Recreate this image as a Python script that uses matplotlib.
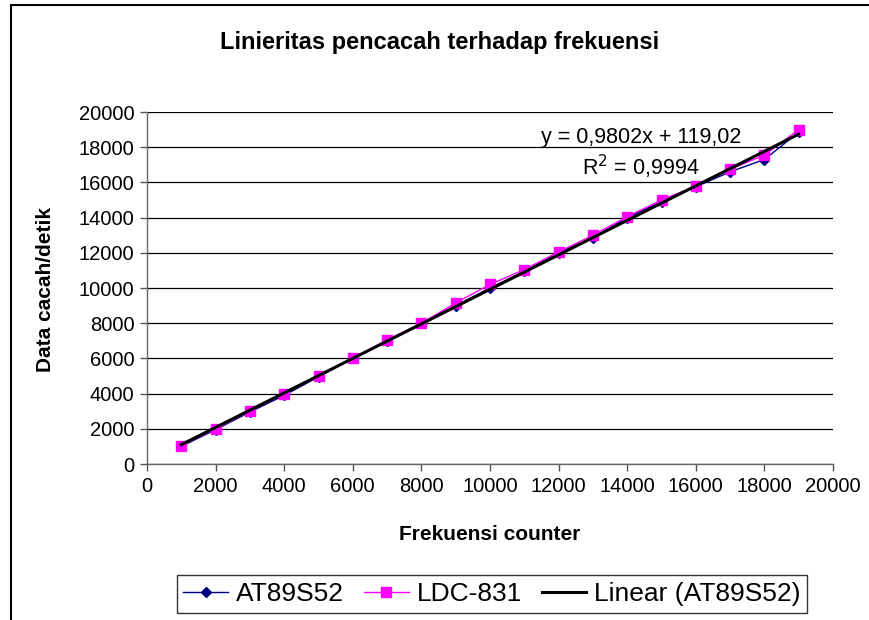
import matplotlib
matplotlib.use("Agg")
import matplotlib.pyplot as plt
from matplotlib.patches import Rectangle
import numpy as np

plt.rcParams['font.family'] = ['Liberation Sans', 'DejaVu Sans']

freq = [1000, 2000, 3000, 4000, 5000, 6000, 7000, 8000, 9000, 10000,
        11000, 12000, 13000, 14000, 15000, 16000, 17000, 18000, 19000]
at89s52 = [1000, 1950, 2950, 3900, 4950, 6000, 7000, 8000, 9000, 10000,
           10950, 12000, 12850, 14000, 14900, 15750, 16600, 17300, 18850]
ldc831 = [1050, 2000, 3000, 4000, 5000, 6000, 7050, 8000, 9150, 10200,
          11050, 12050, 13000, 14050, 15000, 15800, 16750, 17550, 19000]
trend_slope = 0.9802
trend_intercept = 119.02
eq_text = "y = 0,9802x + 119,02"
r2_text = "R$^2$ = 0,9994"

W, H = 869, 620
fig = plt.figure(figsize=(W / 100, H / 100), dpi=100)
fig.patch.set_facecolor('white')

# outer chart border (extends past the right and bottom edges)
fig.patches.append(Rectangle((11 / W, -0.05), 1.1, 1 - 5 / H + 0.05,
                             transform=fig.transFigure, fill=False,
                             edgecolor='black', linewidth=1.5))

ax = fig.add_axes([147 / W, (H - 464) / H, (833 - 147) / W, (464 - 112) / H])
ax.set_xlim(0, 20000)
ax.set_ylim(0, 20000)
ax.set_xticks(np.arange(0, 20001, 2000))
ax.set_yticks(np.arange(0, 20001, 2000))
ax.tick_params(axis='both', labelsize=14.5, direction='out', length=5,
               width=1, color='#555555', pad=4)
for side in ['top', 'right']:
    ax.spines[side].set_visible(False)
for side in ['left', 'bottom']:
    ax.spines[side].set_color('#666666')
    ax.spines[side].set_linewidth(1)
ax.yaxis.grid(True, color='black', linewidth=0.9)
ax.set_axisbelow(True)

ax.plot(freq, at89s52, color='#000080', linewidth=1, marker='D',
        markersize=5, label='AT89S52', zorder=3)
ax.plot(freq, ldc831, color='#FF00FF', linewidth=1, marker='s',
        markersize=7.5, label='LDC-831', zorder=4)
fx = np.array([freq[0], freq[-1]])
ax.plot(fx, trend_slope * fx + trend_intercept, color='black',
        linewidth=2.2, label='Linear (AT89S52)', zorder=5)

ax.text(641 / W, (H - 137) / H, eq_text, transform=fig.transFigure,
        ha='center', va='center', fontsize=15.5)
ax.text(641 / W, (H - 167) / H, r2_text, transform=fig.transFigure,
        ha='center', va='center', fontsize=15.5)

fig.text(440 / W, (H - 43) / H, "Linieritas pencacah terhadap frekuensi",
         ha='center', va='center', fontsize=17, fontweight='bold')
fig.text(490 / W, (H - 534) / H, "Frekuensi counter",
         ha='center', va='center', fontsize=15, fontweight='bold')
fig.text(46 / W, (H - 290) / H, "Data cacah/detik", rotation=90,
         ha='center', va='center', fontsize=15, fontweight='bold')

leg = fig.legend(loc='center', bbox_to_anchor=(492 / W, (H - 594) / H),
                 ncol=3, fontsize=19, frameon=True, fancybox=False,
                 handlelength=1.7, handletextpad=0.3, columnspacing=0.75,
                 borderpad=0.25, borderaxespad=0, edgecolor='black')
leg.get_frame().set_linewidth(1)

fig.savefig('out.png', dpi=100, facecolor='white')
